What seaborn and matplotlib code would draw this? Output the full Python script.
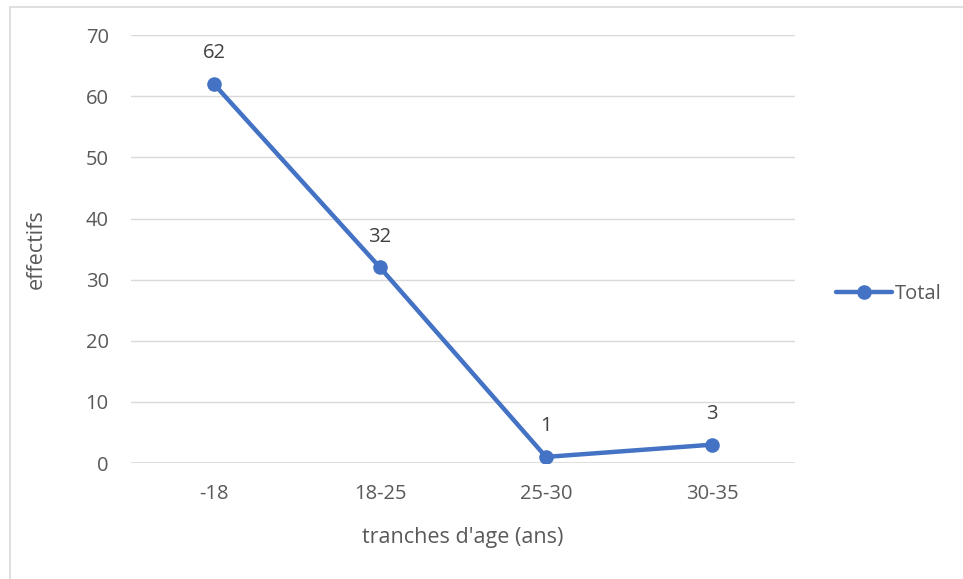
import matplotlib
matplotlib.use("Agg")
import matplotlib.pyplot as plt
import seaborn as sns
import pandas as pd
from matplotlib.lines import Line2D
from matplotlib.patches import Rectangle

categories = ["-18", "18-25", "25-30", "30-35"]
totals = [62, 32, 1, 3]

sns.set_theme(style="white")
plt.rcParams["font.family"] = ["Open Sans", "DejaVu Sans"]

text_col = "#595959"
line_col = "#4472C4"
grid_col = "#D9D9D9"

df = pd.DataFrame({"tranche": categories, "effectifs": totals})

fig = plt.figure(figsize=(9.63, 5.79), dpi=100)
ax = fig.add_axes([0.136, 0.2003, 0.6895, 0.739])

sns.lineplot(data=df, x="tranche", y="effectifs", ax=ax, color=line_col,
             linewidth=3.2, marker="o", markersize=10.5, markeredgewidth=0,
             sort=False, legend=False)

ax.set_xlim(-0.5, len(categories) - 0.5)
ax.set_ylim(0, 70)
ax.set_yticks(range(0, 71, 10))
ax.yaxis.grid(True, color=grid_col, linewidth=1)
ax.xaxis.grid(False)
for s in ax.spines.values():
    s.set_visible(False)
ax.axhline(0, color=grid_col, linewidth=1.2, zorder=1)

ax.tick_params(axis="both", length=0, labelsize=14.5, labelcolor=text_col)
ax.tick_params(axis="y", pad=16)
ax.tick_params(axis="x", pad=15)

ax.set_xlabel("tranches d'age (ans)", fontsize=15.5, color=text_col, labelpad=17)
ax.set_ylabel("effectifs", fontsize=15.5, color=text_col, labelpad=28)

for i, v in enumerate(totals):
    ax.annotate(str(v), (i, v), xytext=(0, 22), textcoords="offset points",
                ha="center", va="center", fontsize=14.5, color="#404040")

handle = Line2D([], [], color=line_col, linewidth=3.2, marker="o",
                markersize=10.5, markeredgewidth=0)
fig.legend([handle], ["Total"], loc="center left",
           bbox_to_anchor=(0.868, 0.492), frameon=False, fontsize=14.5,
           handlelength=2.8, handletextpad=0.15, labelcolor=text_col,
           borderpad=0, borderaxespad=0)

# chart frame
fig.add_artist(Rectangle((10 / 963, -0.01), 1.2, (579 - 7) / 579 + 0.01,
                         transform=fig.transFigure, fill=False,
                         edgecolor="#D9D9D9", linewidth=1.2))

fig.savefig("out.png", dpi=100)
